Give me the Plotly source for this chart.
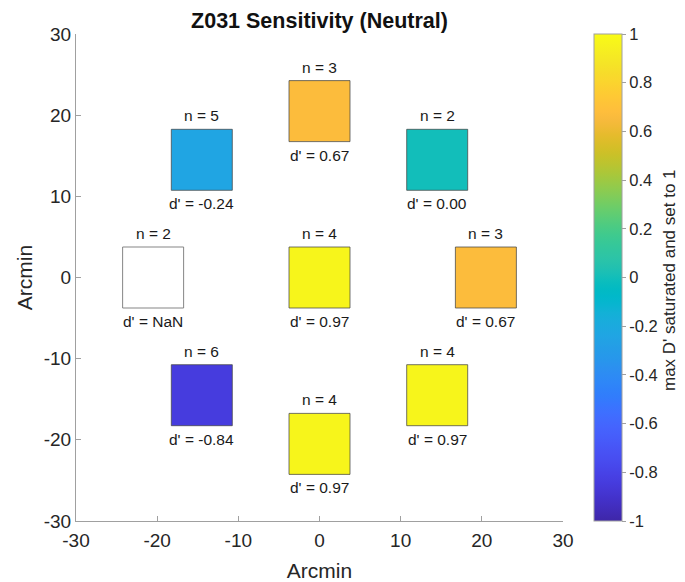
import math
import plotly.graph_objects as go

# ---- data ----
x_pos = [0, -14.5, 14.5, -20.5, 0, 20.5, -14.5, 14.5, 0]
y_pos = [20.5, 14.5, 14.5, 0, 0, 0, -14.5, -14.5, -20.5]
n_vals = [3, 5, 2, 2, 4, 3, 6, 4, 4]
d_vals = [0.67, -0.24, 0.00, float("nan"), 0.97, 0.67, -0.84, 0.97, 0.97]

axis_ticks = [-30, -20, -10, 0, 10, 20, 30]
axis_ticktext = ["-30", "-20", "-10", "0", "10", "20", "30"]
cb_ticks = [-1, -0.8, -0.6, -0.4, -0.2, 0, 0.2, 0.4, 0.6, 0.8, 1]
cb_ticktext = ["-1", "-0.8", "-0.6", "-0.4", "-0.2", "0", "0.2", "0.4", "0.6", "0.8", "1"]

title_text = "Z031 Sensitivity (Neutral)"
x_title = "Arcmin"
y_title = "Arcmin"
cb_title = "max D' saturated and set to 1"

# MATLAB parula (64 levels)
parula = [
    (0.2422, 0.1504, 0.6603), (0.2504, 0.1650, 0.7076), (0.2578, 0.1818, 0.7511), (0.2647, 0.1978, 0.7952),
    (0.2706, 0.2147, 0.8364), (0.2751, 0.2342, 0.8710), (0.2783, 0.2559, 0.8991), (0.2803, 0.2782, 0.9221),
    (0.2813, 0.3006, 0.9414), (0.2810, 0.3228, 0.9579), (0.2795, 0.3447, 0.9717), (0.2760, 0.3667, 0.9829),
    (0.2699, 0.3892, 0.9906), (0.2602, 0.4123, 0.9952), (0.2440, 0.4358, 0.9988), (0.2206, 0.4603, 0.9973),
    (0.1963, 0.4847, 0.9892), (0.1834, 0.5074, 0.9798), (0.1786, 0.5289, 0.9682), (0.1764, 0.5499, 0.9520),
    (0.1687, 0.5703, 0.9359), (0.1540, 0.5902, 0.9218), (0.1460, 0.6091, 0.9079), (0.1380, 0.6276, 0.8973),
    (0.1248, 0.6459, 0.8883), (0.1113, 0.6635, 0.8763), (0.0952, 0.6798, 0.8598), (0.0689, 0.6948, 0.8394),
    (0.0297, 0.7082, 0.8163), (0.0036, 0.7203, 0.7917), (0.0067, 0.7312, 0.7660), (0.0433, 0.7411, 0.7394),
    (0.0964, 0.7500, 0.7120), (0.1408, 0.7584, 0.6842), (0.1717, 0.7670, 0.6554), (0.1938, 0.7758, 0.6251),
    (0.2161, 0.7843, 0.5923), (0.2470, 0.7918, 0.5567), (0.2906, 0.7973, 0.5188), (0.3406, 0.8008, 0.4789),
    (0.3909, 0.8029, 0.4354), (0.4456, 0.8024, 0.3909), (0.5044, 0.7993, 0.3480), (0.5616, 0.7942, 0.3045),
    (0.6174, 0.7876, 0.2612), (0.6720, 0.7793, 0.2227), (0.7242, 0.7698, 0.1910), (0.7738, 0.7598, 0.1646),
    (0.8203, 0.7498, 0.1535), (0.8634, 0.7406, 0.1596), (0.9035, 0.7330, 0.1774), (0.9393, 0.7288, 0.2100),
    (0.9728, 0.7298, 0.2394), (0.9956, 0.7434, 0.2371), (0.9970, 0.7659, 0.2199), (0.9952, 0.7893, 0.2028),
    (0.9892, 0.8136, 0.1885), (0.9786, 0.8386, 0.1766), (0.9676, 0.8639, 0.1643), (0.9610, 0.8890, 0.1537),
    (0.9597, 0.9135, 0.1423), (0.9628, 0.9373, 0.1265), (0.9691, 0.9606, 0.1064), (0.9769, 0.9839, 0.0805),
]
colorscale = [
    [i / (len(parula) - 1), "rgb(%d,%d,%d)" % tuple(round(c * 255) for c in rgb)]
    for i, rgb in enumerate(parula)
]

FONT = "Liberation Sans, Arial, sans-serif"
AX_COLOR = "#262626"
LINE_COLOR = "#a0a0a0"
SQ = 61
# plot-area geometry in pixels
L, R, T, B = 76, 563, 34, 521
W, H = R - L, B - T

valid = [i for i, d in enumerate(d_vals) if not math.isnan(d)]
nan_idx = [i for i, d in enumerate(d_vals) if math.isnan(d)]

fig = go.Figure()
fig.add_trace(go.Scatter(
    x=[x_pos[i] for i in valid], y=[y_pos[i] for i in valid],
    mode="markers", hoverinfo="skip", showlegend=False,
    marker=dict(
        symbol="square", size=SQ,
        color=[d_vals[i] for i in valid], colorscale=colorscale, cmin=-1, cmax=1,
        line=dict(color="rgba(70,70,70,0.75)", width=1),
        colorbar=dict(
            x=(594 - L) / W, xanchor="left", xref="paper",
            y=0, yanchor="bottom", len=1, lenmode="fraction",
            thickness=28, xpad=0, ypad=0,
            outlinecolor=LINE_COLOR, outlinewidth=1,
            tickvals=cb_ticks, ticktext=cb_ticktext,
            ticks="outside", ticklen=4, tickcolor=LINE_COLOR,
            tickfont=dict(family=FONT, size=16.5, color=AX_COLOR),
        ),
    ),
))
fig.add_trace(go.Scatter(
    x=[x_pos[i] for i in nan_idx], y=[y_pos[i] for i in nan_idx],
    mode="markers", hoverinfo="skip", showlegend=False,
    marker=dict(symbol="square", size=SQ, color="white",
                line=dict(color="rgba(120,120,120,0.9)", width=1)),
))

for i in range(len(x_pos)):
    fig.add_annotation(x=x_pos[i], y=y_pos[i], xref="x", yref="y", yshift=44,
                       text="n = %d" % n_vals[i], showarrow=False,
                       font=dict(family=FONT, size=15.5, color="#1a1a1a"))
    dtxt = "NaN" if math.isnan(d_vals[i]) else "%.2f" % d_vals[i]
    fig.add_annotation(x=x_pos[i], y=y_pos[i], xref="x", yref="y", yshift=-44,
                       text="d' = " + dtxt, showarrow=False,
                       font=dict(family=FONT, size=15.5, color="#1a1a1a"))

fig.add_annotation(x=(669 - L) / W, y=(B - 280) / H, xref="paper", yref="paper",
                   xanchor="center", yanchor="middle",
                   text=cb_title, showarrow=False, textangle=-90,
                   font=dict(family=FONT, size=17, color=AX_COLOR))

axis_common = dict(
    range=[-30, 30], tickvals=axis_ticks, ticktext=axis_ticktext,
    showline=True, linecolor=LINE_COLOR, linewidth=1, mirror=False,
    ticks="inside", ticklen=5, tickcolor=LINE_COLOR,
    showgrid=False, zeroline=False, automargin=False,
    tickfont=dict(family=FONT, size=19, color=AX_COLOR),
)
fig.update_layout(
    width=685, height=582,
    margin=dict(l=L, r=685 - R, t=T, b=582 - B, pad=0, autoexpand=False),
    paper_bgcolor="white", plot_bgcolor="white",
    title=dict(text="<b>%s</b>" % title_text, x=0.5, xref="paper", xanchor="center",
               y=1 - 20 / 582, yanchor="middle", yref="container",
               font=dict(family=FONT, size=21.5, color="#111111")),
    xaxis=dict(axis_common, ticklabelstandoff=2,
               title=dict(text=x_title, standoff=14,
                          font=dict(family=FONT, size=21, color=AX_COLOR))),
    yaxis=dict(axis_common,
               title=dict(text=y_title, standoff=5,
                          font=dict(family=FONT, size=21, color=AX_COLOR))),
)
fig.write_html("out.html", config={"displayModeBar": False, "staticPlot": True},
               post_script="document.body.style.margin='0';")
